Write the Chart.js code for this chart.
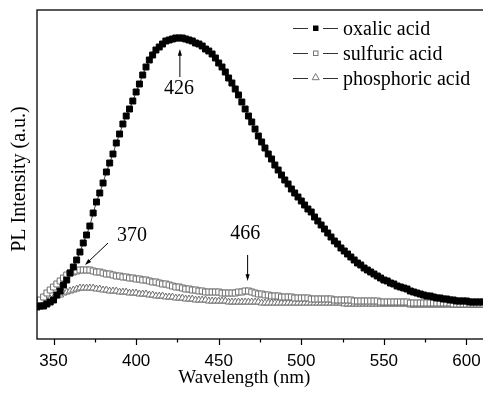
<!DOCTYPE html>
<html>
<head>
<meta charset="utf-8">
<script src="https://cdn.jsdelivr.net/npm/chart.js@4.4.1/dist/chart.umd.min.js"></script>
<style>
html, body { margin: 0; padding: 0; background: #fff; }
#wrap { width: 483px; height: 398px; }
</style>
</head>
<body>
<div id="wrap"><canvas id="plChart" width="483" height="398"></canvas></div>
<script>
// ---------- DATA ----------
const wavelength = [
    340, 342, 344, 346, 348, 350, 352, 354, 356, 358,
    360, 362, 364, 366, 368, 370, 372, 374, 376, 378,
    380, 382, 384, 386, 388, 390, 392, 394, 396, 398,
    400, 402, 404, 406, 408, 410, 412, 414, 416, 418,
    420, 422, 424, 426, 428, 430, 432, 434, 436, 438,
    440, 442, 444, 446, 448, 450, 452, 454, 456, 458,
    460, 462, 464, 466, 468, 470, 472, 474, 476, 478,
    480, 482, 484, 486, 488, 490, 492, 494, 496, 498,
    500, 502, 504, 506, 508, 510, 512, 514, 516, 518,
    520, 522, 524, 526, 528, 530, 532, 534, 536, 538,
    540, 542, 544, 546, 548, 550, 552, 554, 556, 558,
    560, 562, 564, 566, 568, 570, 572, 574, 576, 578,
    580, 582, 584, 586, 588, 590, 592, 594, 596, 598,
    600, 602, 604, 606, 608, 610
];

const oxalicAcid = [
    31, 32, 32, 34, 36, 38, 43, 47, 53, 58,
    65, 71, 78, 86, 95, 103, 112, 125, 136, 145,
    155, 166, 175, 184, 195, 204, 214, 222, 229, 237,
    246, 254, 263, 271, 278, 283, 288, 291, 294, 297,
    298, 299, 300, 300, 300, 299, 298, 297, 295, 294,
    292, 289, 287, 284, 280, 275, 271, 266, 260, 255,
    249, 243, 236, 229, 222, 216, 209, 202, 196, 190,
    184, 179, 173, 168, 163, 158, 154, 149, 145, 141,
    137, 133, 129, 126, 121, 117, 113, 109, 105, 101,
    97, 94, 90, 87, 84, 81, 78, 75, 73, 70,
    68, 66, 64, 62, 60, 58, 57, 55, 54, 52,
    51, 50, 49, 47, 46, 45, 44, 43, 42, 42,
    41, 40, 40, 39, 39, 38, 38, 37, 37, 37,
    37, 36, 36, 36, 36, 36
];

const sulfuricAcid = [
    35, 38, 41, 45, 48, 51, 54, 57, 60, 63,
    65, 66, 67, 68, 68, 68, 68, 67, 66, 66,
    65, 64, 64, 63, 62, 62, 61, 61, 60, 60,
    59, 59, 58, 58, 57, 56, 56, 55, 54, 54,
    53, 52, 51, 51, 50, 49, 49, 48, 48, 47,
    47, 46, 46, 46, 46, 46, 45, 45, 45, 45,
    45, 46, 46, 47, 47, 46, 45, 44, 44, 43,
    43, 42, 42, 42, 41, 41, 41, 41, 40, 40,
    40, 40, 40, 39, 39, 39, 39, 39, 39, 39,
    38, 38, 38, 38, 38, 38, 37, 37, 37, 37,
    37, 37, 37, 37, 36, 36, 36, 36, 36, 36,
    36, 36, 36, 35, 35, 35, 35, 35, 35, 35,
    35, 35, 35, 35, 35, 35, 34, 34, 34, 34,
    34, 34, 34, 34, 34, 34
];

const phosphoricAcid = [
    32, 34, 35, 37, 39, 40, 42, 43, 45, 46,
    47, 48, 49, 50, 50, 50, 50, 50, 49, 49,
    48, 48, 47, 47, 47, 46, 46, 46, 45, 45,
    45, 44, 44, 44, 43, 43, 42, 42, 42, 41,
    41, 41, 40, 40, 40, 39, 39, 39, 38, 38,
    38, 38, 37, 37, 37, 37, 37, 37, 36, 36,
    36, 36, 36, 36, 36, 36, 36, 36, 35, 35,
    35, 35, 35, 35, 35, 35, 35, 35, 35, 35,
    35, 35, 35, 35, 35, 35, 35, 35, 35, 35,
    35, 35, 35, 34, 34, 34, 34, 34, 34, 34,
    34, 34, 34, 34, 34, 34, 34, 34, 34, 34,
    34, 34, 34, 33, 33, 33, 33, 33, 33, 33,
    33, 33, 33, 33, 33, 33, 33, 33, 33, 33,
    33, 33, 33, 33, 33, 33
];

const seriesNames = ['oxalic acid', 'sulfuric acid', 'phosphoric acid'];
const majorTicks = [350, 400, 450, 500, 550, 600];
const minorTicks = [375, 425, 475, 525, 575];
const peakLabels = ['426', '370', '466'];

const SERIF = "'Liberation Serif', 'Times New Roman', serif";
const SANS = "'Liberation Sans', Arial, sans-serif";

function toPoints(values) {
    return wavelength.map((w, i) => ({ x: w, y: values[i] }));
}

// ---------- ARROWS / NOTES ----------
function drawArrow(ctx, x1, y1, x2, y2) {
    const ang = Math.atan2(y2 - y1, x2 - x1);
    const head = 7;
    ctx.beginPath();
    ctx.moveTo(x1, y1);
    ctx.lineTo(x2 - Math.cos(ang) * head * 0.8, y2 - Math.sin(ang) * head * 0.8);
    ctx.stroke();
    ctx.beginPath();
    ctx.moveTo(x2, y2);
    ctx.lineTo(x2 - head * Math.cos(ang - 0.3), y2 - head * Math.sin(ang - 0.3));
    ctx.lineTo(x2 - head * Math.cos(ang + 0.3), y2 - head * Math.sin(ang + 0.3));
    ctx.closePath();
    ctx.fill();
}

const framePlugin = {
    id: 'framePlugin',
    afterDraw(chart) {
        const ctx = chart.ctx;
        const a = chart.chartArea;
        const xs = chart.scales.x;
        const ys = chart.scales.y;

        ctx.save();
        ctx.strokeStyle = '#000';
        ctx.fillStyle = '#000';

        // box (right side runs off the canvas, as in the cropped figure)
        ctx.lineWidth = 1.3;
        ctx.strokeRect(a.left, a.top, a.right - a.left + 4, a.bottom - a.top);

        // outward ticks
        ctx.lineWidth = 1.2;
        ctx.beginPath();
        majorTicks.forEach(v => {
            const px = Math.round(xs.getPixelForValue(v)) + 0.5;
            ctx.moveTo(px, a.bottom);
            ctx.lineTo(px, a.bottom + 6);
        });
        minorTicks.forEach(v => {
            const px = Math.round(xs.getPixelForValue(v)) + 0.5;
            ctx.moveTo(px, a.bottom);
            ctx.lineTo(px, a.bottom + 3.5);
        });
        ctx.stroke();

        // axis titles
        ctx.font = '19px ' + SERIF;
        ctx.textAlign = 'center';
        ctx.textBaseline = 'middle';
        ctx.fillText('Wavelength (nm)', xs.getPixelForValue(465.5), 378);
        ctx.save();
        ctx.translate(20, 179);
        ctx.rotate(-Math.PI / 2);
        ctx.font = '20px ' + SERIF;
        ctx.fillText('PL Intensity (a.u.)', 0, 0);
        ctx.restore();

        // peak notes
        ctx.lineWidth = 1;
        ctx.font = '20px ' + SERIF;
        const X = v => xs.getPixelForValue(v);
        const Y = v => ys.getPixelForValue(v);
        ctx.fillText(peakLabels[0], X(426), Y(249));
        drawArrow(ctx, X(426.5), Y(261), X(426.5), Y(289));
        ctx.fillText(peakLabels[1], X(397.5), Y(102));
        drawArrow(ctx, X(383), Y(95), X(369), Y(73));
        ctx.fillText(peakLabels[2], X(466), Y(104));
        drawArrow(ctx, X(467.5), Y(83), X(467.5), Y(57));

        // legend
        const rows = [28, 53, 78];
        ctx.font = '20px ' + SERIF;
        ctx.textAlign = 'left';
        ctx.textBaseline = 'alphabetic';
        rows.forEach((ry, i) => {
            ctx.strokeStyle = '#333';
            ctx.lineWidth = 1;
            ctx.beginPath();
            ctx.moveTo(293, ry + 0.5);
            ctx.lineTo(308, ry + 0.5);
            ctx.moveTo(323, ry + 0.5);
            ctx.lineTo(338, ry + 0.5);
            ctx.stroke();
            ctx.fillStyle = '#000';
            ctx.fillText(seriesNames[i], 343, ry + 7);
        });
        ctx.fillStyle = '#000';
        ctx.fillRect(313, 25.5, 5.5, 5.5);
        ctx.strokeStyle = '#777';
        ctx.strokeRect(313.5, 51, 4.5, 4.5);
        ctx.beginPath();
        ctx.moveTo(315.7, 73.5);
        ctx.lineTo(319.2, 79.7);
        ctx.lineTo(312.2, 79.7);
        ctx.closePath();
        ctx.stroke();

        ctx.restore();
    }
};

// ---------- CHART ----------
const plChart = new Chart(document.getElementById('plChart').getContext('2d'), {
    type: 'line',
    data: {
        datasets: [
            {
                label: seriesNames[0],
                data: toPoints(oxalicAcid),
                borderColor: '#444',
                borderWidth: 1,
                pointStyle: 'rect',
                pointRadius: 4.2,
                pointBackgroundColor: '#000',
                pointBorderColor: '#000',
                pointBorderWidth: 1
            },
            {
                label: seriesNames[1],
                data: toPoints(sulfuricAcid),
                borderColor: '#999',
                borderWidth: 1,
                pointStyle: 'rect',
                pointRadius: 4.2,
                pointBackgroundColor: '#fff',
                pointBorderColor: '#6f6f6f',
                pointBorderWidth: 1
            },
            {
                label: seriesNames[2],
                data: toPoints(phosphoricAcid),
                borderColor: '#999',
                borderWidth: 1,
                pointStyle: 'triangle',
                pointRadius: 4,
                pointBackgroundColor: '#fff',
                pointBorderColor: '#6f6f6f',
                pointBorderWidth: 1
            }
        ]
    },
    options: {
        responsive: false,
        animation: false,
        devicePixelRatio: 1,
        events: [],
        layout: { autoPadding: false, padding: { top: 10, right: 0, left: 0, bottom: 0 } },
        plugins: {
            legend: { display: false },
            tooltip: { enabled: false }
        },
        scales: {
            x: {
                type: 'linear',
                min: 340,
                max: 610,
                grid: { display: false, drawTicks: false },
                border: { display: false },
                afterBuildTicks: scale => {
                    scale.ticks = majorTicks.map(v => ({ value: v }));
                },
                afterFit: scale => {
                    scale.height = 59;
                    scale.paddingRight = 0;
                },
                ticks: {
                    color: '#000',
                    padding: 12,
                    maxRotation: 0,
                    autoSkip: false,
                    font: { family: SANS, size: 17 }
                }
            },
            y: {
                min: -1,
                max: 328,
                grid: { display: false, drawTicks: false },
                border: { display: false },
                ticks: { display: false },
                afterFit: scale => { scale.width = 37; }
            }
        }
    },
    plugins: [framePlugin]
});
</script>
</body>
</html>
